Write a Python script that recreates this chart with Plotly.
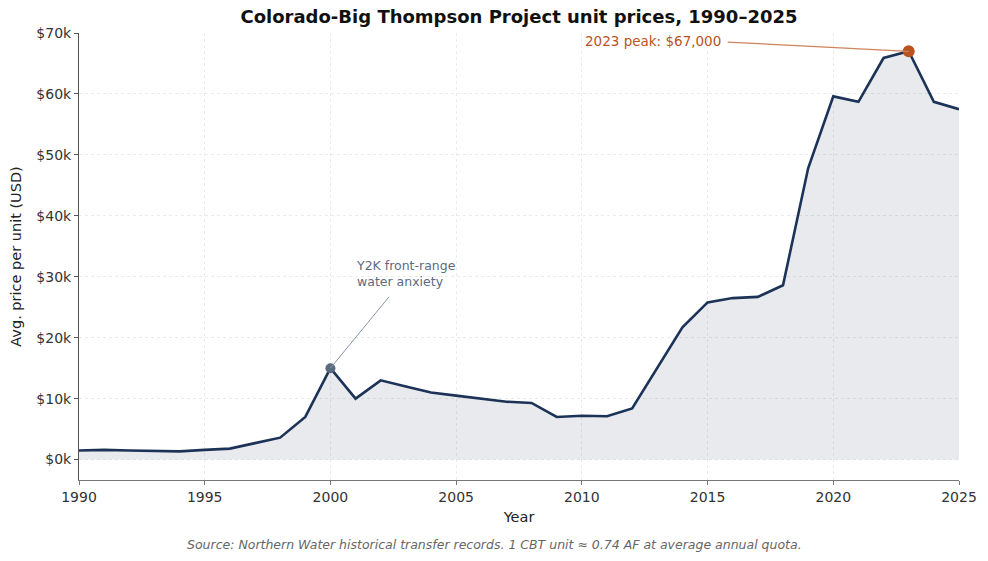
import plotly.graph_objects as go

years = list(range(1990, 2026))
prices = [1500, 1600, 1500, 1400, 1350, 1600, 1800, 2700, 3600, 7000,
          15000, 10000, 13000, 12000, 11000, 10500, 10000, 9500, 9300, 7000,
          7200, 7100, 8400, 15000, 21700, 25800, 26500, 26700, 28600, 47800,
          59600, 58700, 65900, 67000, 58700, 57500]

y_ticks = [0, 10000, 20000, 30000, 40000, 50000, 60000, 70000]
y_tick_labels = ["$0k", "$10k", "$20k", "$30k", "$40k", "$50k", "$60k", "$70k"]
x_ticks = [1990, 1995, 2000, 2005, 2010, 2015, 2020, 2025]

y2k_year, y2k_value = 2000, 15000
y2k_text_pos = (2000.95, 30500)
y2k_line_end = (2002.33, 26700)
peak_year, peak_value = 2023, 67000
peak_text_pos = (2015.6, 68700)

LINE = "#1c3357"
GREY = "#5b6b7f"
ORANGE = "#b9531f"
FONT = "DejaVu Sans"

W, H = 988, 561
ML, MR, MT, MB = 79, 29, 33, 81

fig = go.Figure()
fig.add_trace(go.Scatter(
    x=years, y=prices, mode="lines",
    line=dict(color=LINE, width=2.6),
    fill="tozeroy", fillcolor="rgba(31,53,88,0.10)",
    hoverinfo="x+y", showlegend=False,
))

fig.add_shape(type="line", xref="x", yref="y",
              x0=y2k_year, y0=y2k_value, x1=y2k_line_end[0], y1=y2k_line_end[1],
              line=dict(color="#8a96a6", width=1))
fig.add_shape(type="line", xref="x", yref="y",
              x0=peak_text_pos[0] + 0.2, y0=peak_text_pos[1] - 200, x1=peak_year, y1=peak_value,
              line=dict(color="#d0825c", width=1.3))

fig.add_trace(go.Scatter(x=[y2k_year], y=[y2k_value], mode="markers",
                         marker=dict(color=GREY, size=10), showlegend=False, hoverinfo="skip"))
fig.add_trace(go.Scatter(x=[peak_year], y=[peak_value], mode="markers",
                         marker=dict(color=ORANGE, size=12), showlegend=False, hoverinfo="skip"))

fig.add_annotation(x=y2k_text_pos[0], y=y2k_text_pos[1], xref="x", yref="y",
                   text="Y2K front-range<br>water anxiety", showarrow=False,
                   xanchor="left", yanchor="middle", align="left",
                   font=dict(family=FONT, size=12.5, color=GREY))
fig.add_annotation(x=peak_text_pos[0], y=peak_text_pos[1], xref="x", yref="y",
                   text="2023 peak: $67,000", showarrow=False,
                   xanchor="right", yanchor="middle", align="right",
                   font=dict(family=FONT, size=13.5, color=ORANGE))

fig.add_annotation(x=(494 - ML) / (W - ML - MR), y=-(544 - (H - MB)) / (H - MT - MB),
                   xref="paper", yref="paper",
                   text="<i>Source: Northern Water historical transfer records. 1 CBT unit ≈ 0.74 AF at average annual quota.</i>",
                   showarrow=False, font=dict(family=FONT, size=12.5, color="#666666"),
                   xanchor="center", yanchor="middle")

fig.update_layout(
    width=W, height=H,
    margin=dict(l=ML, r=MR, t=MT, b=MB),
    paper_bgcolor="white", plot_bgcolor="white",
    font=dict(family=FONT, size=14, color="#333333"),
    title=dict(text="<b>Colorado-Big Thompson Project unit prices, 1990–2025</b>",
               x=519 / W, xanchor="center", y=1 - 17 / H, yanchor="middle",
               font=dict(family=FONT, size=18, color="#111111")),
    xaxis=dict(range=[1990, 2025], tickvals=x_ticks, showgrid=True,
               gridcolor="#ebebeb", griddash="dot", gridwidth=1,
               showline=True, linecolor="#777777", linewidth=1,
               ticks="outside", ticklen=4, tickcolor="#777777",
               title=dict(text="Year", font=dict(size=14.5, color="#222222"), standoff=8),
               zeroline=False, tickfont=dict(size=14, color="#333333")),
    yaxis=dict(range=[-3350, 70000], tickvals=y_ticks, ticktext=y_tick_labels,
               showgrid=True, gridcolor="#ebebeb", griddash="dot", gridwidth=1,
               showline=True, linecolor="#555555", linewidth=1,
               ticks="outside", ticklen=4, tickcolor="#555555",
               title=dict(text="Avg. price per unit (USD)", font=dict(size=14.5, color="#222222"), standoff=11),
               zeroline=False, tickfont=dict(size=14, color="#333333")),
)

fig.write_html("out.html")
